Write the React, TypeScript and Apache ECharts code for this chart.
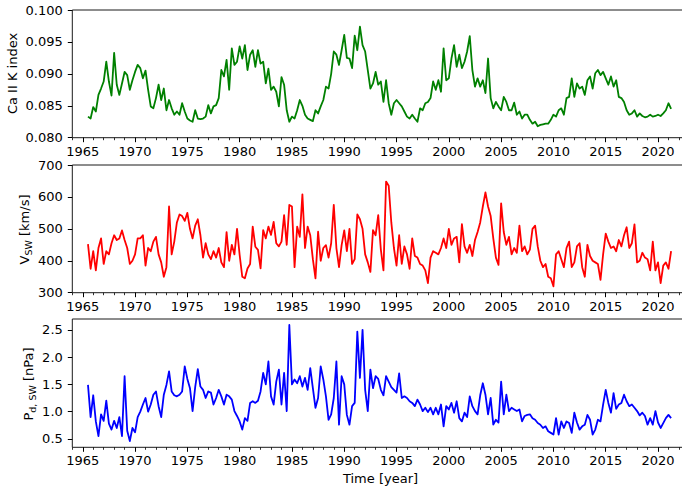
import React, { useEffect, useRef } from "react";
import * as echarts from "echarts";

// ---- data (quarterly samples) ----
const START_YEAR = 1965.5;
const STEP_YEARS = 0.25;

const caIIK = [
  0.0833, 0.0830,
  0.0848, 0.0841, 0.0867, 0.0877,
  0.0888, 0.0919, 0.0888, 0.0866,
  0.0933, 0.0883, 0.0867, 0.0885,
  0.0903, 0.0898, 0.0875, 0.0890,
  0.0903, 0.0914, 0.0909, 0.0893,
  0.0905, 0.0875, 0.0849, 0.0846,
  0.0862, 0.0883, 0.0859, 0.0877,
  0.0843, 0.0859, 0.0846, 0.0836,
  0.0841, 0.0836, 0.0854, 0.0841,
  0.0830, 0.0827, 0.0825, 0.0843,
  0.0830, 0.0829, 0.0830, 0.0833,
  0.0851, 0.0838, 0.0849, 0.0851,
  0.0862, 0.0906, 0.0896, 0.0922,
  0.0875, 0.0940, 0.0914, 0.0919,
  0.0943, 0.0924, 0.0945, 0.0906,
  0.0930, 0.0937, 0.0911, 0.0937,
  0.0916, 0.0919, 0.0885, 0.0908,
  0.0875, 0.0880, 0.0872, 0.0849,
  0.0895, 0.0883, 0.0843, 0.0825,
  0.0833, 0.0830, 0.0843, 0.0859,
  0.0850, 0.0836, 0.0830, 0.0828,
  0.0826, 0.0843, 0.0838, 0.0849,
  0.0859, 0.0880, 0.0877, 0.0900,
  0.0935, 0.0930, 0.0914, 0.0937,
  0.0961, 0.0925, 0.0924, 0.0909,
  0.0960, 0.0937, 0.0974, 0.0945,
  0.0935, 0.0906, 0.0877, 0.0885,
  0.0903, 0.0883, 0.0888, 0.0856,
  0.0890, 0.0854, 0.0836, 0.0854,
  0.0859, 0.0854, 0.0849, 0.0841,
  0.0833, 0.0830, 0.0836, 0.0830,
  0.0825, 0.0846, 0.0843, 0.0854,
  0.0856, 0.0862, 0.0888, 0.0875,
  0.0890, 0.0872, 0.0940, 0.0890,
  0.0893, 0.0924, 0.0945, 0.0911,
  0.0930, 0.0909, 0.0919, 0.0935,
  0.0959, 0.0906, 0.0880, 0.0893,
  0.0880, 0.0890, 0.0870, 0.0924,
  0.0862, 0.0846, 0.0856, 0.0849,
  0.0843, 0.0864, 0.0856, 0.0843,
  0.0843, 0.0855, 0.0836, 0.0841,
  0.0830, 0.0836, 0.0836, 0.0828,
  0.0822, 0.0825, 0.0818, 0.0820,
  0.0821, 0.0822, 0.0822, 0.0828,
  0.0836, 0.0833, 0.0843, 0.0846,
  0.0836, 0.0862, 0.0864, 0.0893,
  0.0864, 0.0885, 0.0877, 0.0880,
  0.0867, 0.0890, 0.0896, 0.0877,
  0.0901, 0.0906, 0.0898, 0.0903,
  0.0893, 0.0883, 0.0896, 0.0880,
  0.0890, 0.0864, 0.0862, 0.0856,
  0.0843, 0.0836, 0.0838, 0.0843,
  0.0833, 0.0838, 0.0834, 0.0832,
  0.0833, 0.0836, 0.0833, 0.0834,
  0.0836, 0.0834, 0.0838, 0.0843,
  0.0854, 0.0845,
];

const vSW = [
  452, 375,
  430, 370, 440, 470,
  390, 430, 420, 455,
  480, 465, 470, 495,
  465, 440, 390, 400,
  420, 470, 470, 480,
  385, 440, 430, 460,
  475, 420, 395, 350,
  380, 570, 420, 460,
  520, 545, 540, 525,
  550, 500, 470, 510,
  530, 480, 410, 455,
  420, 405, 430, 410,
  440, 395, 380, 490,
  400, 450, 420, 500,
  418, 350, 345, 376,
  390, 507, 444, 434,
  376, 496, 470, 507,
  481, 522, 455, 445,
  460, 543, 450, 575,
  570, 380, 507, 475,
  608, 440, 507, 480,
  405, 345, 491, 400,
  440, 449, 410, 455,
  575, 440, 380, 449,
  495, 430, 500, 390,
  405, 545, 530, 500,
  420, 395, 365, 496,
  480, 543, 435, 370,
  648, 635, 520, 440,
  385, 480, 390, 445,
  420, 375, 470, 415,
  410, 390, 385, 370,
  330, 410, 430, 425,
  420, 440, 470, 440,
  500, 450, 470, 475,
  395, 515, 445, 425,
  450, 415, 465, 490,
  520, 570, 614, 570,
  540, 470, 410, 387,
  580, 490, 450, 475,
  420, 440, 425, 510,
  430, 445, 420, 435,
  500, 510, 445, 400,
  380, 390, 350, 345,
  320, 420, 430, 405,
  380, 440, 460, 380,
  395, 445, 455, 380,
  350, 450, 415, 400,
  395, 390, 340, 420,
  485, 460, 440, 445,
  430, 465, 445, 480,
  505, 440, 455, 514,
  395, 400, 425, 410,
  405, 370, 460, 370,
  395, 330, 385, 395,
  375, 430,
];

const pdSW = [
  1.49, 0.90,
  1.30, 0.82, 0.55, 0.95,
  0.83, 1.20, 0.78, 0.67,
  0.83, 0.70, 0.90, 0.55,
  1.65, 0.65, 0.46, 0.70,
  0.62, 0.90, 1.00, 1.13,
  1.25, 1.00, 1.13, 1.31,
  1.37, 1.10, 0.90, 1.31,
  1.49, 1.74, 1.37, 1.30,
  1.28, 1.31, 1.37, 1.83,
  1.60, 1.43, 1.01, 1.45,
  1.78, 1.46, 1.40, 1.25,
  1.37, 1.35, 1.13, 1.25,
  1.40, 1.28, 1.13, 1.31,
  1.28, 1.22, 1.01, 0.92,
  0.82, 0.67, 0.88, 0.83,
  1.16, 1.19, 1.16, 1.20,
  1.37, 1.71, 1.50, 1.92,
  1.28, 1.13, 1.55, 1.77,
  1.13, 1.71, 1.01, 2.59,
  1.50, 1.59, 1.52, 1.65,
  1.46, 1.62, 1.40, 1.80,
  1.43, 1.07, 1.25, 1.83,
  1.59, 1.28, 0.85, 0.95,
  1.25, 1.92, 0.76, 1.65,
  1.50, 0.94, 0.76, 1.10,
  1.16, 2.47, 1.62, 2.50,
  1.40, 1.01, 1.77, 1.43,
  1.65, 1.60, 1.40, 1.30,
  1.65, 1.55, 1.45, 1.40,
  1.35, 1.70, 1.25, 1.28,
  1.25, 1.19, 1.16, 1.10,
  1.22, 1.13, 1.01, 1.07,
  0.99, 1.07, 0.95, 1.07,
  0.95, 1.13, 0.73, 1.10,
  1.04, 1.16, 0.98, 1.19,
  0.88, 0.82, 0.98, 0.90,
  1.28, 1.10, 1.01, 0.95,
  1.30, 1.52, 1.31, 0.95,
  1.25, 0.76, 0.85, 0.80,
  1.55, 0.95, 1.31, 1.01,
  1.07, 1.04, 1.01, 1.04,
  0.82, 0.92, 0.94, 0.95,
  0.88, 0.85, 0.79, 0.76,
  0.70, 0.73, 0.64, 0.61,
  0.58, 0.88, 0.58, 0.82,
  0.70, 0.82, 0.79, 0.61,
  0.98, 0.80, 0.67, 0.73,
  0.76, 0.94, 0.85, 0.58,
  0.67, 0.85, 0.82, 1.13,
  1.40, 1.16, 0.98, 1.34,
  1.05, 1.13, 1.16, 1.31,
  1.19, 1.10, 1.13, 1.07,
  1.01, 0.93, 0.98, 0.92,
  0.76, 0.88, 0.76, 1.01,
  0.80, 0.70, 0.79, 0.88,
  0.94, 0.88,
];

// ---- tick labels ----
const majorYears = [1965, 1970, 1975, 1980, 1985, 1990, 1995, 2000, 2005, 2010, 2015, 2020];
const minorYears = [
  1964, 1965, 1966, 1967, 1968, 1969, 1970, 1971, 1972, 1973, 1974, 1975, 1976, 1977, 1978, 1979,
  1980, 1981, 1982, 1983, 1984, 1985, 1986, 1987, 1988, 1989, 1990, 1991, 1992, 1993, 1994, 1995,
  1996, 1997, 1998, 1999, 2000, 2001, 2002, 2003, 2004, 2005, 2006, 2007, 2008, 2009, 2010, 2011,
  2012, 2013, 2014, 2015, 2016, 2017, 2018, 2019, 2020, 2021, 2022, 2023,
];
const caTicks = [0.08, 0.085, 0.09, 0.095, 0.1];
const vTicks = [300, 400, 500, 600, 700];
const pTicks = [0.5, 1.0, 1.5, 2.0, 2.5];

const X_MIN = 1964;
const X_MAX = 2023;
const FONT = "DejaVu Sans";

function toPairs(values: number[]) {
  return values.map((v, i) => [START_YEAR + i * STEP_YEARS, v]);
}

export default function App() {
  const ref = useRef<HTMLDivElement>(null);

  useEffect(() => {
    if (!ref.current) return;
    const chart = echarts.init(ref.current, null, { renderer: "svg" });

    const grids = [
      { left: 72.3, top: 10, width: 617.1, height: 127.7 },
      { left: 72.3, top: 165, width: 617.1, height: 127.7 },
      { left: 72.3, top: 319, width: 617.1, height: 128.3 },
    ].map((g) => ({ ...g, show: true, borderColor: "#1a1a1a", borderWidth: 1, backgroundColor: "transparent" }));

    const mainX = (g: number) => ({
      type: "value",
      gridIndex: g,
      min: X_MIN,
      max: X_MAX,
      position: "bottom",
      axisLine: { show: false },
      axisTick: { show: true, length: 4.5, customValues: majorYears, lineStyle: { color: "#000", width: 1 } },
      axisLabel: {
        show: true,
        customValues: majorYears,
        margin: 7,
        fontSize: 13,
        fontFamily: FONT,
        color: "#000",
        formatter: (v: number) => String(v),
      },
      splitLine: { show: false },
    });
    const minorX = (g: number) => ({
      type: "value",
      gridIndex: g,
      min: X_MIN,
      max: X_MAX,
      position: "bottom",
      axisLine: { show: false },
      axisTick: { show: true, length: 2.5, customValues: minorYears, lineStyle: { color: "#000", width: 0.8 } },
      axisLabel: { show: false },
      splitLine: { show: false },
    });
    const yAx = (g: number, min: number, max: number, ticks: number[], digits: number) => ({
      type: "value",
      gridIndex: g,
      min,
      max,
      axisLine: { show: false },
      axisTick: { show: true, length: 4.5, customValues: ticks, lineStyle: { color: "#000", width: 1 } },
      axisLabel: {
        show: true,
        customValues: ticks,
        margin: 9.5,
        fontSize: 13,
        fontFamily: FONT,
        color: "#000",
        formatter: (v: number) => v.toFixed(digits),
      },
      splitLine: { show: false },
    });

    const lineSeries = (idx: number, values: number[], color: string) => ({
      type: "line",
      xAxisIndex: idx,
      yAxisIndex: idx,
      data: toPairs(values),
      showSymbol: false,
      symbol: "none",
      clip: true,
      silent: true,
      lineStyle: { color, width: 1.8, join: "round" },
      itemStyle: { color },
    });

    const labelStyle = { fontSize: 13, fontFamily: FONT, fill: "#000", align: "center", verticalAlign: "middle" };
    const rich = {
      m: { fontSize: 13, fontFamily: FONT, lineHeight: 15, fill: "#000" },
      s: { fontSize: 9.5, fontFamily: FONT, lineHeight: 10, padding: [8, 0, 0, 0], fill: "#000" },
    };

    chart.setOption({
      animation: false,
      backgroundColor: "#ffffff",
      grid: grids,
      xAxis: [mainX(0), mainX(1), mainX(2), minorX(0), minorX(1), minorX(2)],
      yAxis: [
        yAx(0, 0.08, 0.1, caTicks, 3),
        yAx(1, 300, 700, vTicks, 0),
        yAx(2, 0.345, 2.7, pTicks, 1),
      ],
      series: [
        lineSeries(0, caIIK, "#008000"),
        lineSeries(1, vSW, "#ff0000"),
        lineSeries(2, pdSW, "#0000ff"),
      ],
      graphic: [
        { type: "text", x: 12.8, y: 73.5, rotation: Math.PI / 2, style: { ...labelStyle, text: "Ca II K index" } },
        {
          type: "text",
          x: 24.5,
          y: 229.5,
          rotation: Math.PI / 2,
          style: { ...labelStyle, text: "{m|V}{s|SW}{m| [km/s]}", rich },
        },
        {
          type: "text",
          x: 28.5,
          y: 384,
          rotation: Math.PI / 2,
          style: { ...labelStyle, text: "{m|P}{s|d, SW}{m| [nPa]}", rich },
        },
        { type: "text", x: 380.5, y: 478, style: { ...labelStyle, text: "Time [year]" } },
      ],
    });

    return () => chart.dispose();
  }, []);

  return (
    <div style={{ position: "absolute", left: 0, top: 0, width: 682, height: 489, overflow: "hidden", background: "#fff" }}>
      <div ref={ref} style={{ width: 700, height: 489 }} />
    </div>
  );
}
